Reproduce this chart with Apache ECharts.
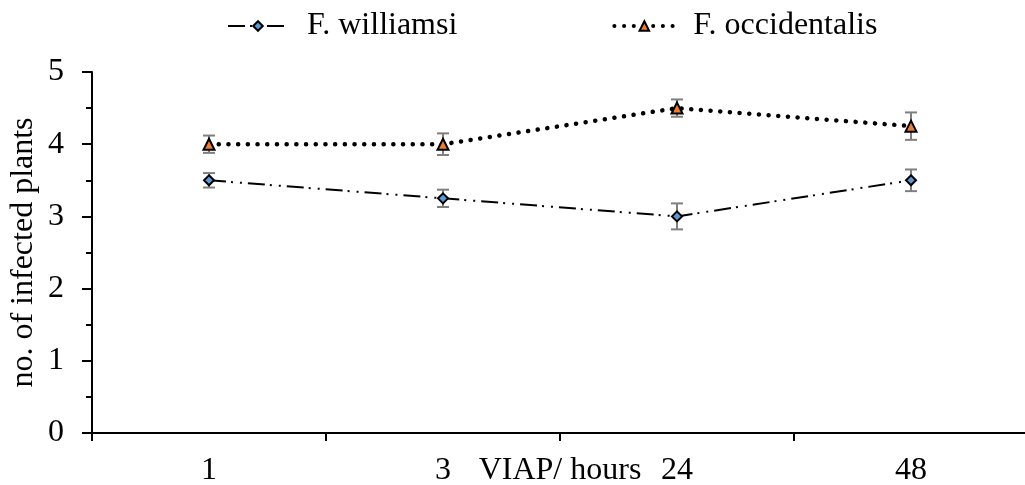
<!DOCTYPE html>
<html>
<head>
<meta charset="utf-8">
<script src="https://cdn.jsdelivr.net/npm/echarts@6/dist/echarts.min.js"></script>
<style>
  html, body { margin: 0; padding: 0; background: #fff; }
  #chart { width: 1025px; height: 485px; }
</style>
</head>
<body>
<div id="chart"></div>
<script>
// Hours after virus inoculation (VIAP) and mean number of infected plants
const categories = ['1', '3', '24', '48'];
const williamsi = [3.5, 3.25, 3.0, 3.5];
const williamsiErr = [0.1, 0.12, 0.18, 0.15];
const occidentalis = [4.0, 4.0, 4.5, 4.25];
const occidentalisErr = [0.12, 0.15, 0.12, 0.19];
const yTicks = [0, 1, 2, 3, 4, 5];

const FONT = '"Liberation Serif", "Times New Roman", serif';
const FS = 32;

const williamsiDash = [17, 5, 2, 7, 2, 6];
const occidentalisDash = [0.1, 9.6];

// Error-bar data rows: [category index, mean, half-width]
function errRows(means, errs) {
  return means.map((m, i) => [i, m, errs[i]]);
}

function renderErrorBar(params, api) {
  const x = api.value(0);
  const m = api.value(1);
  const e = api.value(2);
  const hi = api.coord([x, m + e]);
  const lo = api.coord([x, m - e]);
  const cap = 6;
  const style = { stroke: '#7f7f7f', lineWidth: 2, fill: null };
  return {
    type: 'group',
    children: [
      { type: 'line', shape: { x1: hi[0], y1: hi[1], x2: lo[0], y2: lo[1] }, style },
      { type: 'line', shape: { x1: hi[0] - cap, y1: hi[1], x2: hi[0] + cap, y2: hi[1] }, style },
      { type: 'line', shape: { x1: lo[0] - cap, y1: lo[1], x2: lo[0] + cap, y2: lo[1] }, style }
    ]
  };
}

const chart = echarts.init(document.getElementById('chart'), null, { renderer: 'canvas' });

chart.setOption({
  animation: false,
  backgroundColor: '#fff',
  textStyle: { fontFamily: FONT },
  legend: {
    left: 222,
    top: 5,
    itemWidth: 60,
    itemHeight: 12,
    itemGap: 155,
    data: [
      { name: 'F. williamsi', lineStyle: { type: williamsiDash, width: 2, color: '#000' } },
      { name: 'F. occidentalis', lineStyle: { type: occidentalisDash, width: 4, color: '#000', cap: 'round' } }
    ],
    textStyle: { fontFamily: FONT, fontSize: FS, color: '#000', padding: [0, 0, 0, 14] }
  },
  grid: { left: 92, right: -3, top: 72, bottom: 52, containLabel: false, outerBoundsMode: 'none' },
  xAxis: {
    type: 'category',
    data: categories,
    boundaryGap: true,
    name: 'VIAP/ hours',
    nameLocation: 'middle',
    nameGap: 22,
    nameMoveOverlap: false,
    nameTextStyle: { fontFamily: FONT, fontSize: FS, color: '#000', verticalAlign: 'top' },
    axisLine: { lineStyle: { color: '#000', width: 2 } },
    axisTick: { show: true, alignWithLabel: false, length: 8, lineStyle: { color: '#000', width: 2 } },
    axisLabel: { fontFamily: FONT, fontSize: FS, color: '#000', margin: 22 },
    splitLine: { show: false }
  },
  yAxis: {
    type: 'value',
    min: 0,
    max: 5,
    interval: 1,
    name: 'no. of infected plants',
    nameLocation: 'middle',
    nameRotate: 90,
    nameGap: 52,
    nameMoveOverlap: false,
    nameTextStyle: { fontFamily: FONT, fontSize: FS, color: '#000' },
    axisLine: { show: true, lineStyle: { color: '#000', width: 2 } },
    axisTick: { show: true, length: 10, lineStyle: { color: '#000', width: 2 } },
    minorTick: { show: true, splitNumber: 2, length: 6, lineStyle: { color: '#000', width: 2 } },
    axisLabel: {
      fontFamily: FONT, fontSize: FS, color: '#000', margin: 28,
      formatter: v => (yTicks.includes(v) ? String(v) : '')
    },
    splitLine: { show: false },
    minorSplitLine: { show: false }
  },
  series: [
    {
      type: 'custom',
      name: 'err-williamsi',
      renderItem: renderErrorBar,
      data: errRows(williamsi, williamsiErr),
      encode: { x: 0, y: 1 },
      z: 1,
      silent: true
    },
    {
      type: 'custom',
      name: 'err-occidentalis',
      renderItem: renderErrorBar,
      data: errRows(occidentalis, occidentalisErr),
      encode: { x: 0, y: 1 },
      z: 1,
      silent: true
    },
    {
      type: 'line',
      name: 'F. williamsi',
      data: williamsi,
      z: 3,
      symbol: 'diamond',
      symbolSize: 10,
      showAllSymbol: true,
      lineStyle: { color: '#000', width: 2, type: williamsiDash },
      itemStyle: { color: '#5b9bd5', borderColor: '#000', borderWidth: 2 }
    },
    {
      type: 'line',
      name: 'F. occidentalis',
      data: occidentalis,
      z: 3,
      symbol: 'triangle',
      symbolSize: 11,
      showAllSymbol: true,
      lineStyle: { color: '#000', width: 4.5, type: occidentalisDash, cap: 'round' },
      itemStyle: { color: '#ed7d31', borderColor: '#000', borderWidth: 2 }
    }
  ]
});
</script>
</body>
</html>
